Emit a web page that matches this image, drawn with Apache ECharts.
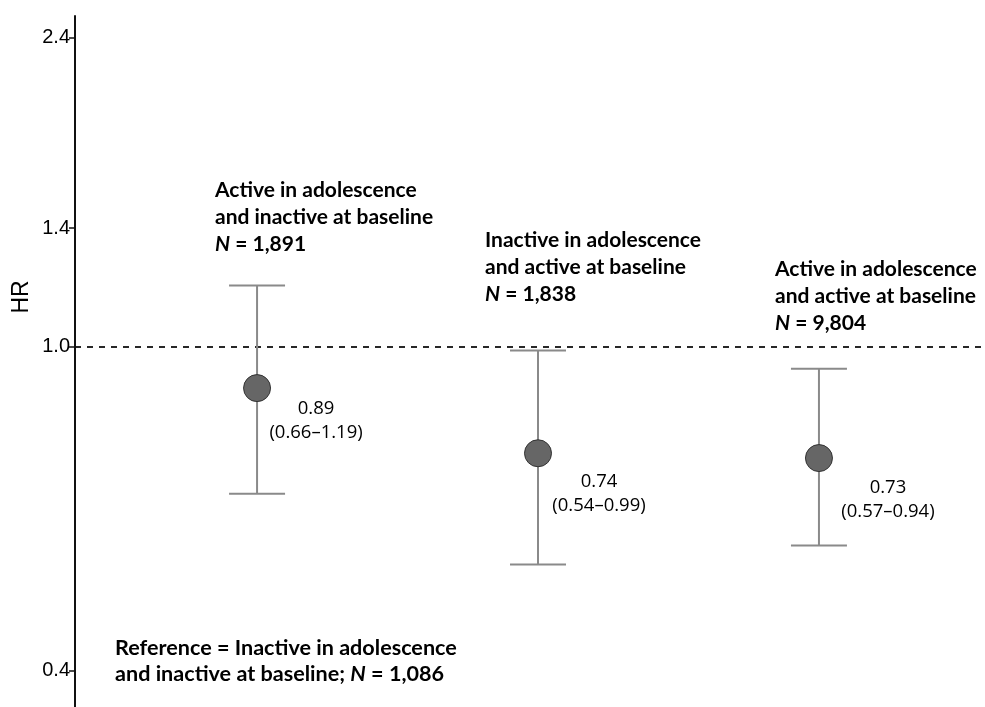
<!DOCTYPE html>
<html>
<head>
<meta charset="utf-8">
<script src="https://cdn.jsdelivr.net/npm/echarts@6/dist/echarts.min.js"></script>
<style>
  html, body { margin: 0; padding: 0; background: #fff; }
  #chart { width: 985px; height: 707px; }
</style>
</head>
<body>
<div id="chart"></div>
<script>
// ---- data ----
const groupTitles = [
  'Active in adolescence\nand inactive at baseline',
  'Inactive in adolescence\nand active at baseline',
  'Active in adolescence\nand active at baseline'
];
const groupN = ['1,891', '1,838', '9,804'];
const groupX = [1, 2, 3];
const hr = [0.89, 0.74, 0.73];
const ciLower = [0.66, 0.54, 0.57];
const ciUpper = [1.19, 0.99, 0.94];
const tickValues = [0.4, 1.0, 1.4, 2.4];
const tickLabels = ['0.4', '1.0', '1.4', '2.4'];
const referenceValue = 1.0;
const referenceText = 'Reference = Inactive in adolescence\nand inactive at baseline; {i|N} = 1,086';

// ---- layout / style config ----
const yMin = 0.3607, yMax = 2.553;
const xMin = 0.352, xMax = 3.591;
const titleLayout = [ { x: 215, y: 217 }, { x: 485, y: 267.5 }, { x: 775, y: 296 } ];
const valueLabelOffset = [ [59, 33], [61, 40], [69, 42] ];
const capHalf = 28;
const barColor = '#8a8a8a';
const titleFont = 'Lato';

const log10 = Math.log10;
const chart = echarts.init(document.getElementById('chart'));

const errData = groupX.map((x, i) => [x, log10(ciLower[i]), log10(ciUpper[i])]);
const pointData = groupX.map((x, i) => ({
  value: [x, log10(hr[i])],
  label: { offset: valueLabelOffset[i] }
}));

const richFor = (size) => ({
  i: { fontStyle: 'italic', fontWeight: 'bold', fontFamily: titleFont, fontSize: size, fill: '#000' }
});

const graphics = groupTitles.map((t, i) => ({
  type: 'text',
  x: titleLayout[i].x,
  y: titleLayout[i].y,
  style: {
    text: t + '\n{i|N} = ' + groupN[i],
    fontFamily: titleFont,
    fontWeight: 'bold',
    fontSize: 21,
    fill: '#000',
    lineHeight: 27,
    align: 'left',
    verticalAlign: 'middle',
    rich: richFor(21)
  }
}));
graphics.push({
  type: 'text',
  x: 115, y: 661,
  style: {
    text: referenceText,
    fontFamily: titleFont, fontWeight: 'bold', fontSize: 21.6,
    fill: '#000', lineHeight: 26, align: 'left', verticalAlign: 'middle',
    rich: richFor(21.6)
  }
});
graphics.push({
  type: 'text',
  x: 22, y: 297,
  rotation: Math.PI / 2,
  style: {
    text: 'HR', fontFamily: 'Liberation Sans', fontSize: 23, fill: '#000',
    align: 'center', verticalAlign: 'middle'
  }
});

const option = {
  animation: false,
  backgroundColor: '#ffffff',
  grid: { left: 75, right: 0, top: 16, bottom: 0, containLabel: false, outerBoundsMode: 'none' },
  xAxis: {
    type: 'value', min: xMin, max: xMax, show: false
  },
  yAxis: {
    type: 'value',
    min: log10(yMin), max: log10(yMax),
    splitLine: { show: false },
    axisLine: { show: true, lineStyle: { color: '#111', width: 2 } },
    axisTick: { show: true, length: 6, lineStyle: { color: '#111', width: 1.5 },
      customValues: tickValues.map(log10) },
    axisLabel: {
      customValues: tickValues.map(log10),
      fontFamily: 'Liberation Sans', fontSize: 20, color: '#000', margin: 5,
      rich: { t: { fontFamily: 'Liberation Sans', fontSize: 20, color: '#000' } },
      formatter: (v) => {
        const idx = tickValues.findIndex(t => Math.abs(log10(t) - v) < 1e-6);
        return idx >= 0 ? '{t|' + tickLabels[idx] + '}' : '';
      }
    }
  },
  graphic: graphics,
  series: [
    {
      type: 'custom',
      data: errData,
      encode: { x: 0, y: [1, 2] },
      z: 2,
      silent: true,
      renderItem: (params, api) => {
        const x = api.value(0);
        const pLo = api.coord([x, api.value(1)]);
        const pHi = api.coord([x, api.value(2)]);
        const st = { stroke: barColor, lineWidth: 2 };
        return {
          type: 'group',
          children: [
            { type: 'line', shape: { x1: pLo[0], y1: pLo[1], x2: pHi[0], y2: pHi[1] }, style: st },
            { type: 'line', shape: { x1: pLo[0] - capHalf, y1: pLo[1], x2: pLo[0] + capHalf, y2: pLo[1] }, style: st },
            { type: 'line', shape: { x1: pHi[0] - capHalf, y1: pHi[1], x2: pHi[0] + capHalf, y2: pHi[1] }, style: st }
          ]
        };
      },
      markLine: {
        silent: true,
        symbol: 'none',
        label: { show: false },
        lineStyle: { color: '#111', width: 1.8, type: [6, 6] },
        data: [{ yAxis: log10(referenceValue) }],
        z: 1
      }
    },
    {
      type: 'scatter',
      data: pointData,
      symbol: 'circle',
      symbolSize: 27,
      z: 3,
      itemStyle: { color: '#666666', borderColor: '#333333', borderWidth: 1, opacity: 1 },
      label: {
        show: true,
        position: 'inside',
        align: 'center',
        verticalAlign: 'middle',
        fontFamily: 'Open Sans',
        fontSize: 18.5,
        lineHeight: 24,
        color: '#000',
        formatter: (p) => {
          const i = p.dataIndex;
          return hr[i].toFixed(2) + '\n(' + ciLower[i].toFixed(2) + '\u2013' + ciUpper[i].toFixed(2) + ')';
        }
      }
    }
  ]
};
chart.setOption(option);
</script>
</body>
</html>
